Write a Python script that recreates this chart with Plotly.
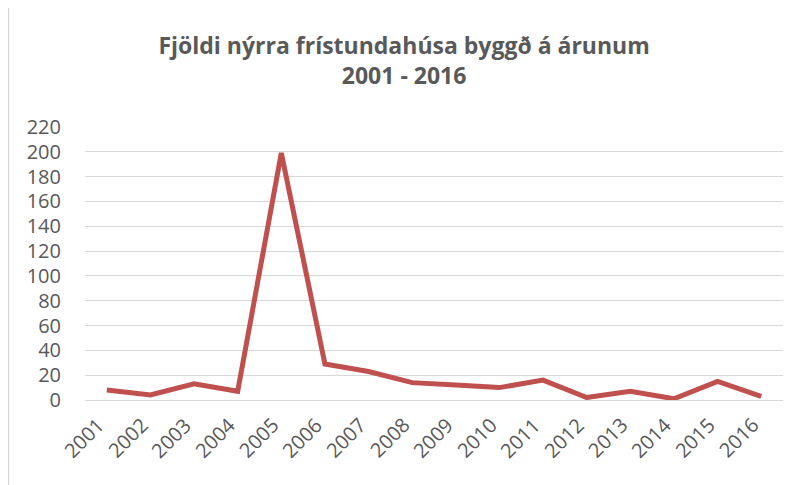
import plotly.graph_objects as go

years = ["2001", "2002", "2003", "2004", "2005", "2006", "2007", "2008",
         "2009", "2010", "2011", "2012", "2013", "2014", "2015", "2016"]
houses = [8, 4, 13, 7, 199, 29, 23, 14, 12, 10, 16, 2, 7, 1, 15, 3]
y_ticks = [0, 20, 40, 60, 80, 100, 120, 140, 160, 180, 200, 220]

title_text = "Fjöldi nýrra frístundahúsa byggð á árunum<br>2001 - 2016"

fig = go.Figure()
fig.add_trace(go.Scatter(
    x=years, y=houses, mode="lines",
    line=dict(color="#C0504D", width=5),
    hoverinfo="x+y",
))

# x tick labels drawn as rotated annotations placed on the category axis
year_labels = [
    dict(x=i, xref="x", y=0, yref="paper", text=yr, showarrow=False,
         textangle=-45, xanchor="right", yanchor="top", xshift=6, yshift=-9,
         font=dict(family="Open Sans", size=20, color="#595959"))
    for i, yr in enumerate(years)
]

fig.update_layout(
    width=810, height=485,
    paper_bgcolor="white", plot_bgcolor="white",
    margin=dict(l=77, r=35, t=119, b=93, autoexpand=False),
    showlegend=False,
    title=dict(
        text=title_text, x=0.489, xanchor="center", xref="container",
        y=0.905, yanchor="top", yref="container",
        font=dict(family="Open Sans", size=23, color="#595959", weight="bold"),
    ),
    font=dict(family="Open Sans", color="#595959"),
    annotations=year_labels,
    shapes=[
        dict(type="line", xref="paper", yref="paper", x0=-0.110, x1=1.2,
             y0=1.445, y1=1.445, line=dict(color="#D9D9D9", width=2)),
        dict(type="line", xref="paper", yref="paper", x0=-0.110, x1=-0.110,
             y0=1.445, y1=-0.4, line=dict(color="#D9D9D9", width=2)),
    ],
)
fig.update_xaxes(
    type="category", categoryorder="array", categoryarray=years,
    range=[-0.5, len(years) - 0.5], showticklabels=False, showgrid=False,
    showline=False, zeroline=False, automargin=False,
)
fig.update_yaxes(
    range=[0, 220], tickvals=y_ticks, showgrid=True, gridcolor="#D9D9D9",
    gridwidth=1, zeroline=True, zerolinecolor="#D9D9D9", zerolinewidth=1,
    showline=False, tickfont=dict(size=20, color="#595959"),
    ticklabelstandoff=23, automargin=False,
)

fig.write_html("out.html")
